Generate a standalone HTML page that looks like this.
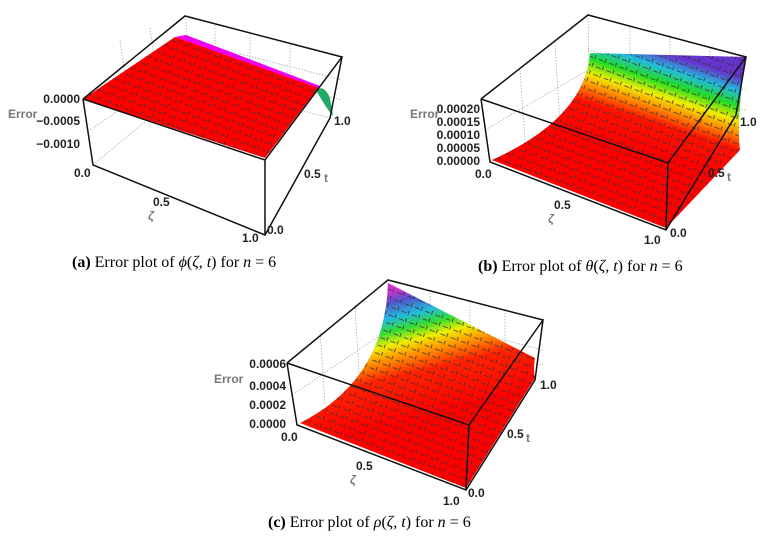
<!DOCTYPE html>
<html><head><meta charset="utf-8"><style>
body{margin:0;background:#fff}
svg{display:block}
.t{font-family:"Liberation Sans",sans-serif;font-size:12px;font-weight:bold;fill:#222}
.g{font-family:"Liberation Sans",sans-serif;font-size:12px;font-weight:bold;fill:#777}
.c{font-family:"Liberation Serif",serif;font-size:16px;fill:#000}
.d{stroke:#aaa;stroke-width:0.8;stroke-dasharray:1.5 1.5;fill:none}
.k{stroke:#111;stroke-width:1.5;fill:none}
</style></head><body>
<svg width="769" height="540" viewBox="0 0 769 540">
<defs>
<linearGradient id="gb" gradientUnits="userSpaceOnUse" x1="640" y1="150" x2="670" y2="55">
<stop offset="0" stop-color="#f00"/><stop offset="0.3" stop-color="#f10"/><stop offset="0.45" stop-color="#f80"/><stop offset="0.58" stop-color="#ee0"/><stop offset="0.72" stop-color="#2d2"/><stop offset="0.86" stop-color="#2bd"/><stop offset="1" stop-color="#63c"/>
</linearGradient>
<linearGradient id="gc" gradientUnits="userSpaceOnUse" x1="450" y1="410" x2="420" y2="285">
<stop offset="0" stop-color="#f00"/><stop offset="0.35" stop-color="#f20"/><stop offset="0.5" stop-color="#f90"/><stop offset="0.6" stop-color="#ee0"/><stop offset="0.7" stop-color="#3d3"/><stop offset="0.8" stop-color="#2bd"/><stop offset="0.92" stop-color="#55c"/><stop offset="1" stop-color="#c3c"/>
</linearGradient>
<pattern id="hatch" width="11" height="8" patternUnits="userSpaceOnUse" patternTransform="rotate(20)">
<path d="M0 3h5M7 0v4" stroke="#333" stroke-width="0.8"/>
</pattern>
</defs>

<!-- Panel a -->
<g>
<path class="d" d="M185 16L193 82L93 165M193 82L330 118M120 40L130 110M150 28L160 95M215 25L215 90M250 34L250 98M290 45L290 108M185 40L342 80M185 60L342 100M90 130L193 60"/>
<polygon points="175,37 186,35 320,86 318,89" fill="#e0e"/>
<polygon points="83,99 175,37 318,88 265,158" fill="#f00"/>
<polygon points="83,99 175,37 318,88 265,158" fill="url(#hatch)"/>
<path d="M316,90 Q324,84 330,98 L333,116 Q326,108 316,90Z" fill="#2a6"/>
<path class="k" d="M83 99L185 16L342 57L265 160L83 99M83 99L93 165L265 235L330 118L342 57M265 160L265 235"/>
<text class="t" x="80" y="103" text-anchor="end">0.0000</text>
<text class="t" x="80" y="125" text-anchor="end">−0.0005</text>
<text class="t" x="80" y="148" text-anchor="end">−0.0010</text>
<text class="g" x="8" y="118">Error</text>
<text class="t" x="74" y="177">0.0</text>
<text class="t" x="153" y="206">0.5</text>
<text class="g" x="148" y="220" font-style="italic">ζ</text>
<text class="t" x="242" y="242">1.0</text>
<text class="t" x="267" y="234">0.0</text>
<text class="t" x="304" y="178">0.5</text>
<text class="g" x="324" y="182">t</text>
<text class="t" x="334" y="125">1.0</text>
<text class="c" x="72" y="267"><tspan font-weight="bold">(a)</tspan> Error plot of <tspan font-style="italic">ϕ</tspan>(<tspan font-style="italic">ζ, t</tspan>) for <tspan font-style="italic">n</tspan> = 6</text>
</g>

<!-- Panel b -->
<g>
<path class="d" d="M588 15L590 110L490 162M590 110L736 115M520 70L525 140M555 45L560 125M630 25L630 112M670 35L670 113M710 48L710 114M588 50L746 90M588 80L746 110M485 130L588 70"/>
<path d="M492 160 Q585 118 590 53 L746 57 Q736 120 740 150 L666 228 Z" fill="url(#gb)"/>
<path d="M492 160 Q585 118 590 53 L746 57 Q736 120 740 150 L666 228 Z" fill="url(#hatch)"/>
<path class="k" d="M481 99L588 15L746 57L668 163L481 99M481 99L490 162L666 230L736 115L746 57M668 163L666 230"/>
<text class="t" x="480" y="113" text-anchor="end">0.00020</text>
<text class="t" x="480" y="126" text-anchor="end">0.00015</text>
<text class="t" x="480" y="139" text-anchor="end">0.00010</text>
<text class="t" x="480" y="152" text-anchor="end">0.00005</text>
<text class="t" x="480" y="165" text-anchor="end">0.00000</text>
<text class="g" x="410" y="118">Error</text>
<text class="t" x="475" y="178">0.0</text>
<text class="t" x="554" y="209">0.5</text>
<text class="g" x="548" y="223" font-style="italic">ζ</text>
<text class="t" x="644" y="244">1.0</text>
<text class="t" x="670" y="237">0.0</text>
<text class="t" x="708" y="177">0.5</text>
<text class="g" x="727" y="181">t</text>
<text class="t" x="740" y="126">1.0</text>
<text class="c" x="478" y="271"><tspan font-weight="bold">(b)</tspan> Error plot of <tspan font-style="italic">θ</tspan>(<tspan font-style="italic">ζ, t</tspan>) for <tspan font-style="italic">n</tspan> = 6</text>
</g>

<!-- Panel c -->
<g>
<path class="d" d="M388 280L390 380L297 425M390 380L535 380M320 330L325 405M355 305L360 392M430 290L430 380M470 300L470 380M505 310L505 380M388 310L543 350M388 340L543 365M292 395L388 330"/>
<path d="M300 423 Q385 380 388 283 L535 358 Q533 370 535 378 L466 488 Z" fill="url(#gc)"/>
<path d="M300 423 Q385 380 388 283 L535 358 Q533 370 535 378 L466 488 Z" fill="url(#hatch)"/>
<path class="k" d="M287 363L388 280L543 320L469 425L287 363M287 363L297 425L466 490L535 380L543 320M469 425L466 490"/>
<text class="t" x="286" y="368" text-anchor="end">0.0006</text>
<text class="t" x="286" y="390" text-anchor="end">0.0004</text>
<text class="t" x="286" y="409" text-anchor="end">0.0002</text>
<text class="t" x="286" y="428" text-anchor="end">0.0000</text>
<text class="g" x="214" y="383">Error</text>
<text class="t" x="281" y="441">0.0</text>
<text class="t" x="356" y="470">0.5</text>
<text class="g" x="350" y="484" font-style="italic">ζ</text>
<text class="t" x="443" y="505">1.0</text>
<text class="t" x="468" y="497">0.0</text>
<text class="t" x="507" y="438">0.5</text>
<text class="g" x="526" y="442">t</text>
<text class="t" x="540" y="389">1.0</text>
<text class="c" x="268" y="527"><tspan font-weight="bold">(c)</tspan> Error plot of <tspan font-style="italic">ρ</tspan>(<tspan font-style="italic">ζ, t</tspan>) for <tspan font-style="italic">n</tspan> = 6</text>
</g>
</svg>
</body></html>
